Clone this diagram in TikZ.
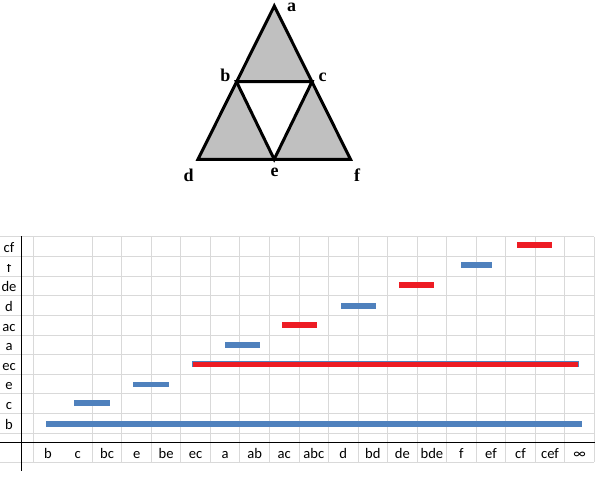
\documentclass[tikz,border=0pt]{standalone}
\usepackage{fontspec}
\setmainfont{Carlito}
\newfontfamily\trifont{Liberation Serif}
\definecolor{barblue}{HTML}{4F81BD}
\definecolor{barred}{HTML}{ED1C24}
\definecolor{gridgray}{HTML}{D9D9D9}
\definecolor{trigray}{HTML}{C0C0C0}
\begin{document}
\begin{tikzpicture}[x=1pt,y=-1pt,
  gridline/.style={draw=gridgray, line width=1pt},
  axisline/.style={draw=black, line width=1pt},
  lbl/.style={font=\fontsize{14.6}{16}\selectfont, inner sep=0pt, anchor=base},
  vlbl/.style={font=\trifont\bfseries\fontsize{18}{20}\selectfont, inner sep=0pt, anchor=base},
  bluebar/.style={fill=barblue},
  redbar/.style={fill=barred},
  tri/.style={draw=black, line width=3pt, line join=miter}]
\useasboundingbox (0,0) rectangle (616,498);
% grid
\foreach \k in {0,...,10} \draw[gridline] (0,{236.7+19.66*\k}) -- (594.3,{236.7+19.66*\k});
\draw[gridline] (0,462.3) -- (594.3,462.3);
\foreach \k in {0,2,3,...,19} \draw[gridline] ({33.3+29.526*\k},236.7) -- ({33.3+29.526*\k},462.3);
% axes
\draw[axisline] (0,442.3) -- (595,442.3);
\draw[axisline] (21,236) -- (21,471);
% row labels
\foreach \t [count=\i from 0] in {b,c,e,ec,a,ac,d,de} \node[lbl] (row\i) at (9,{429.3-19.66*\i}) {\t};
\begin{scope}
\clip (0,264.3) rectangle (21,276);
\node[lbl] (row8) at (9,{429.3-19.66*8}) {f};
\end{scope}
\node[lbl] (row9) at (9,{429.3-19.66*9}) {cf};
% column labels
\foreach \t [count=\i from 0] in {b,c,bc,e,be,ec,a,ab,ac,abc,d,bd,de,bde,f,ef,cf,cef,∞}
  \node[lbl] (col\i) at ({33.3+29.526*(\i+0.5)},458.3) {\t};
% bars
\fill[bluebar] (46,421) rectangle (581.7,426.7);
\fill[bluebar] (74,400.3) rectangle (110,405.7);
\fill[bluebar] (133,381.5) rectangle (169,386.8);
\fill[bluebar] (192,361.2) rectangle (579,367.1);
\fill[redbar] (193,361.7) rectangle (578,366.7);
\fill[bluebar] (225,342) rectangle (260,347.7);
\fill[redbar] (282,322) rectangle (317,327.7);
\fill[bluebar] (341,303) rectangle (376,308.7);
\fill[redbar] (399,282) rectangle (434,287.7);
\fill[bluebar] (461,262) rectangle (492,267.7);
\fill[redbar] (517,242) rectangle (552,247.7);
% triangle
\coordinate (a) at (274.3,6);
\coordinate (b) at (236.5,81.7);
\coordinate (c) at (312,81.7);
\coordinate (d) at (198,159.3);
\coordinate (e) at (274.2,159.3);
\coordinate (f) at (350.5,159.3);
\fill[trigray] (a) -- (d) -- (f) -- cycle;
\fill[white] (b) -- (c) -- (e) -- cycle;
\draw[tri] (a) -- (d) -- (f) -- cycle;
\draw[tri] (b) -- (c) -- (e) -- cycle;
\node[vlbl] (la) at (291.7,11.5) {a};
\node[vlbl] (lb) at (225.3,81.7) {b};
\node[vlbl] (lc) at (322.5,81.7) {c};
\node[vlbl] (ld) at (188.7,181.7) {d};
\node[vlbl] (le) at (274.7,176.7) {e};
\node[vlbl] (lf) at (357,181.7) {f};
\end{tikzpicture}
\end{document}
